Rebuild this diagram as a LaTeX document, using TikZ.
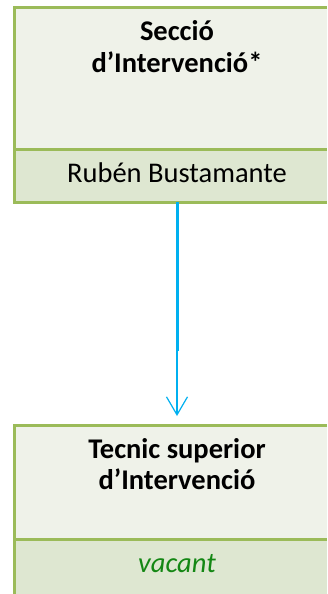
\documentclass[tikz,border=0pt]{standalone}
\usepackage{fontspec}
\setmainfont{Carlito}
\usetikzlibrary{arrows.meta}
\definecolor{bordergreen}{RGB}{155,187,89}
\definecolor{headfill}{RGB}{239,242,233}
\definecolor{namefill}{RGB}{222,231,209}
\definecolor{linkblue}{RGB}{0,176,240}
\definecolor{vacgreen}{RGB}{20,135,20}
\tikzset{
  headbox/.style={fill=headfill, minimum width=313pt, inner sep=0pt, outer sep=0pt},
  namebox/.style={fill=namefill, minimum width=313pt, inner sep=0pt, outer sep=0pt},
  edge/.style={draw=bordergreen, line width=3pt},
  titletext/.style={font=\fontsize{28.5}{34}\selectfont\bfseries, anchor=base, inner sep=0pt},
  nametext/.style={font=\fontsize{28.5}{34}\selectfont, anchor=base, inner sep=0pt},
}
\begin{document}
\begin{tikzpicture}[x=1pt,y=-1pt]
\useasboundingbox[fill=white] (0,0) rectangle (327,594);
\begin{scope}
\clip (0,0) rectangle (327,594);
\begin{pgfinterruptboundingbox}
% top box
\node[headbox, minimum height=141pt] (t1) at (170.5,78.5) {};
\node[namebox, minimum height=53pt] (n1) at (170.5,175.5) {};
\draw[edge] (t1.north east) -- (t1.north west) -- (n1.south west) -- (n1.south east);
\draw[edge] (n1.north west) -- (n1.north east);
\node[titletext] (t1a) at (177,41) {Secció};
\node[titletext] (t1b) at (177,73) {d’Intervenció*};
\node[nametext] (n1a) at (177,182) {Rubén Bustamante};
% bottom box
\node[headbox, minimum height=114pt] (t2) at (170.5,482) {};
\node[namebox, minimum height=80pt] (n2) at (170.5,579) {};
\draw[edge] (t2.north east) -- (t2.north west) -- (n2.south west) -- (n2.south east);
\draw[edge] (n2.north west) -- (n2.north east);
\node[titletext] (t2a) at (177,458) {Tecnic superior};
\node[titletext] (t2b) at (177,489) {d’Intervenció};
\node[nametext, text=vacgreen, font=\fontsize{28.5}{34}\selectfont\itshape] (n2a) at (177,572) {vacant};
% connector
\coordinate (top) at (n1.south -| n1a.base);
\coordinate (mid) at (177,351);
\coordinate (tip) at (t2.north -| n1a.base);
\draw[linkblue, line width=3pt] (top) -- (mid);
\draw[linkblue, line width=1.2pt, -{Straight Barb[length=18pt,width=21pt,line width=1.2pt]}, shorten >=9pt] (mid) -- (tip);
\end{pgfinterruptboundingbox}
\end{scope}
\end{tikzpicture}
\end{document}
